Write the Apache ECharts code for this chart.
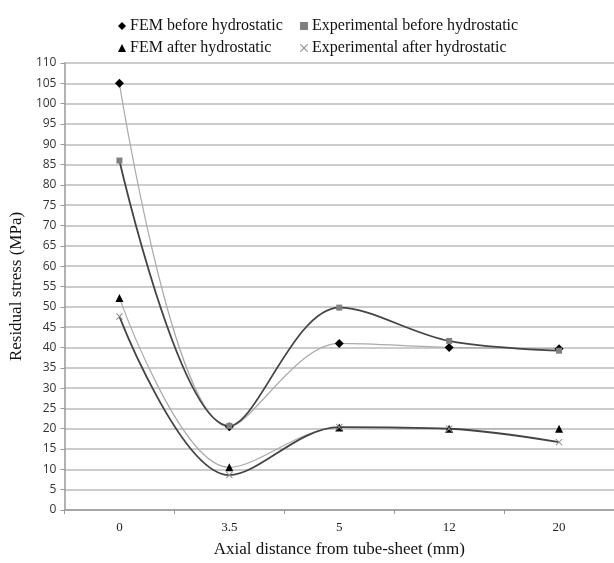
<!DOCTYPE html>
<html>
<head>
<meta charset="utf-8">
<script src="https://cdn.jsdelivr.net/npm/echarts@6/dist/echarts.min.js"></script>
<style>
  html, body { margin: 0; padding: 0; background: #fff; }
  #chart { width: 614px; height: 563px; }
</style>
</head>
<body>
<div id="chart"></div>
<script>
// axial distance categories (mm)
const distances = ["0", "3.5", "5", "12", "20"];
// residual stress values (MPa)
const femBefore = [105, 20.5, 41, 40, 39.7];
const expBefore = [86, 20.7, 49.8, 41.6, 39.2];
const femAfter = [52.2, 10.5, 20.3, 20, 20];
const expAfter = [47.6, 8.6, 20.4, 20, 16.7];

const crossPath = "path://M0,1L1,0L5,4L9,0L10,1L6,5L10,9L9,10L5,6L1,10L0,9L4,5Z";
const serif = "Liberation Serif";

function mkSeries(name, data, symbol, size, markColor, lineColor, lineWidth) {
  return {
    name: name,
    type: "line",
    data: data,
    smooth: 0.35,
    symbol: symbol,
    symbolSize: size,
    showAllSymbol: true,
    itemStyle: { color: markColor },
    lineStyle: { color: lineColor, width: lineWidth },
    emphasis: { disabled: true },
  };
}

const legendText = { fontFamily: serif, fontSize: 16, color: "#111", padding: [0, 0, 0, -1] };

const chart = echarts.init(document.getElementById("chart"));
chart.setOption({
  animation: false,
  legend: [
    {
      left: 113,
      top: 13,
      orient: "vertical",
      itemGap: 6,
      itemWidth: 8,
      itemHeight: 8,
      textStyle: legendText,
      data: [
        { name: "FEM before hydrostatic", icon: "diamond" },
        { name: "FEM after hydrostatic", icon: "triangle" },
      ],
    },
    {
      left: 295,
      top: 13,
      orient: "vertical",
      itemGap: 6,
      itemWidth: 8,
      itemHeight: 8,
      textStyle: legendText,
      data: [
        { name: "Experimental before hydrostatic", icon: "rect" },
        { name: "Experimental after hydrostatic", icon: crossPath },
      ],
    },
  ],
  grid: { left: 64, right: 0, top: 63, bottom: 49 },
  xAxis: {
    type: "category",
    data: distances,
    boundaryGap: true,
    name: "Axial distance from tube-sheet (mm)",
    nameLocation: "middle",
    nameGap: 31,
    nameTextStyle: { fontFamily: serif, fontSize: 17, color: "#111" },
    axisLine: { lineStyle: { color: "#999", width: 1.5 } },
    axisTick: { show: true, length: 4, lineStyle: { color: "#999" } },
    axisLabel: { fontFamily: serif, fontSize: 13, color: "#222", margin: 11 },
  },
  yAxis: {
    type: "value",
    min: 0,
    max: 110,
    interval: 5,
    name: "Residual stress (MPa)",
    nameLocation: "middle",
    nameGap: 38,
    nameTextStyle: { fontFamily: serif, fontSize: 17, color: "#111" },
    axisLine: { show: true, lineStyle: { color: "#999", width: 1.5 } },
    axisTick: { show: true, length: 4, lineStyle: { color: "#999" } },
    axisLabel: { fontFamily: "Open Sans", fontSize: 12, color: "#333", margin: 8 },
    splitLine: { lineStyle: { color: "#bbb", width: 1.5 } },
  },
  series: [
    mkSeries("FEM before hydrostatic", femBefore, "diamond", 9, "#000", "#aaa", 1.2),
    mkSeries("Experimental before hydrostatic", expBefore, "rect", 6, "#808080", "#444", 1.8),
    mkSeries("FEM after hydrostatic", femAfter, "triangle", 8, "#000", "#aaa", 1.2),
    mkSeries("Experimental after hydrostatic", expAfter, crossPath, 7, "#909090", "#444", 1.8),
  ],
});
</script>
</body>
</html>
